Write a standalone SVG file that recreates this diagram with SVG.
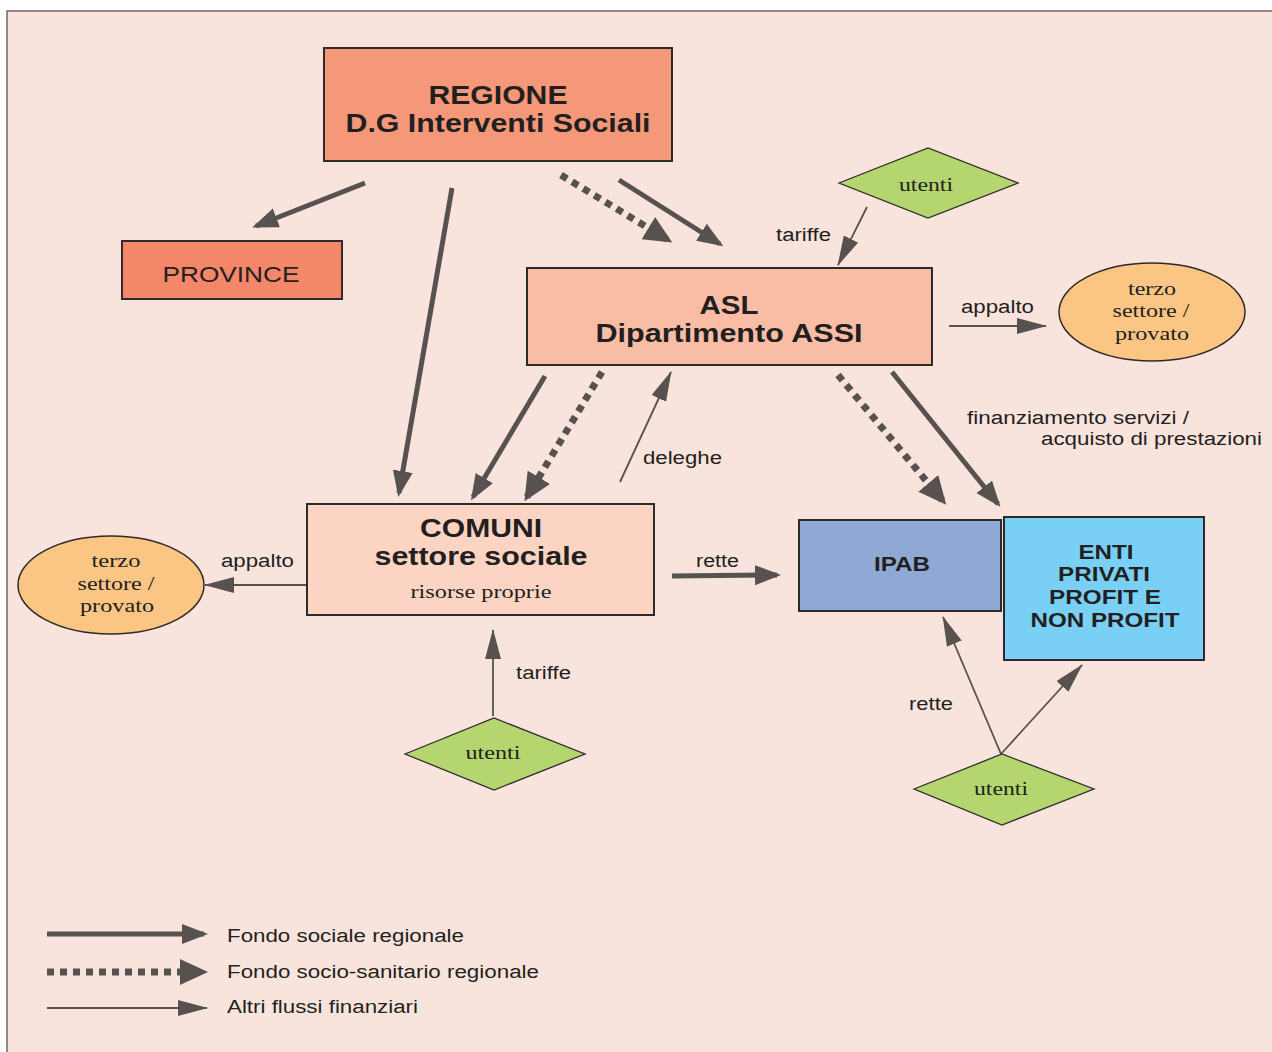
<svg xmlns="http://www.w3.org/2000/svg" width="1272" height="1052" viewBox="0 0 1272 1052">
  <style>
    .box { stroke: #2e2a2a; stroke-width: 2; }
    .dia { fill: #b5d56f; stroke: #2e2a2a; stroke-width: 1.3; }
    .ell { fill: #fbc584; stroke: #2e2a2a; stroke-width: 1.5; }
    .ttl { font-family: "Liberation Sans", Arial, sans-serif; font-weight: bold; fill: #231f20; text-anchor: middle; }
    .reg { font-family: "Liberation Sans", Arial, sans-serif; fill: #231f20; }
    .ser { font-family: "Liberation Serif", "Times New Roman", serif; fill: #231f20; text-anchor: middle; }
    .thick { stroke: #575150; stroke-width: 5; fill: none; marker-end: url(#hThick); }
    .dash { stroke: #575150; stroke-width: 7; fill: none; stroke-dasharray: 7 6; marker-end: url(#hDash); }
    .thin { stroke: #575150; stroke-width: 1.8; fill: none; marker-end: url(#hThin); }
  </style>
  <defs>
    <!-- heads sit slightly past the line end so the stroke never pokes out of the tip -->
    <marker id="hThick" markerUnits="userSpaceOnUse" markerWidth="30" markerHeight="24" refX="22" refY="10" orient="auto">
      <path d="M0,0 L26,10 L0,20 Z" fill="#575150"/>
    </marker>
    <marker id="hDash" markerUnits="userSpaceOnUse" markerWidth="32" markerHeight="30" refX="23" refY="13" orient="auto">
      <path d="M0,0 L28,13 L0,26 Z" fill="#575150"/>
    </marker>
    <marker id="hThin" markerUnits="userSpaceOnUse" markerWidth="34" markerHeight="20" refX="29" refY="8" orient="auto">
      <path d="M0,0 L30,8 L0,16 Z" fill="#575150"/>
    </marker>
  </defs>

  <!-- sheet -->
  <rect x="7" y="11" width="1270" height="1045" fill="#f8e4dc" stroke="#6e6464" stroke-width="1.5"/>

  <!-- flows -->
  <g id="connectors">
    <line class="thick" x1="365" y1="183" x2="256" y2="226"/>
    <line class="thick" x1="452" y1="188" x2="399" y2="493"/>
    <line class="dash" x1="561" y1="175" x2="668" y2="240"/>
    <line class="thick" x1="619" y1="180" x2="720" y2="244"/>
    <line class="thin" x1="867" y1="207" x2="838" y2="265"/>
    <line class="thin" x1="949" y1="326" x2="1046" y2="326"/>
    <line class="thick" x1="545" y1="376" x2="473" y2="497"/>
    <line class="dash" x1="602" y1="372" x2="527" y2="497"/>
    <line class="thin" x1="620" y1="482" x2="671" y2="372"/>
    <line class="dash" x1="838" y1="375" x2="943" y2="501"/>
    <line class="thick" x1="892" y1="372" x2="998" y2="504"/>
    <line class="thin" x1="307" y1="585" x2="205" y2="585"/>
    <line class="thick" x1="672" y1="576" x2="777" y2="575" stroke-width="4"/>
    <line class="thin" x1="493" y1="716" x2="493" y2="630"/>
    <line class="thin" x1="1001" y1="754" x2="943" y2="617"/>
    <line class="thin" x1="1001" y1="754" x2="1082" y2="665"/>

    <g class="reg" font-size="18">
      <text x="776" y="241" textLength="55" lengthAdjust="spacingAndGlyphs">tariffe</text>
      <text x="961" y="313" textLength="73" lengthAdjust="spacingAndGlyphs">appalto</text>
      <text x="643" y="464" textLength="79" lengthAdjust="spacingAndGlyphs">deleghe</text>
      <text x="967" y="424" textLength="222" lengthAdjust="spacingAndGlyphs">finanziamento servizi /</text>
      <text x="1041" y="445" textLength="221" lengthAdjust="spacingAndGlyphs">acquisto di prestazioni</text>
      <text x="221" y="567" textLength="73" lengthAdjust="spacingAndGlyphs">appalto</text>
      <text x="696" y="567" textLength="43" lengthAdjust="spacingAndGlyphs">rette</text>
      <text x="516" y="679" textLength="55" lengthAdjust="spacingAndGlyphs">tariffe</text>
      <text x="909" y="710" textLength="44" lengthAdjust="spacingAndGlyphs">rette</text>
    </g>
  </g>

  <!-- bodies -->
  <g id="regione">
    <rect class="box" x="324" y="48" width="348" height="113" fill="#f5987a"/>
    <text class="ttl" x="498" y="104" font-size="26" textLength="139" lengthAdjust="spacingAndGlyphs">REGIONE</text>
    <text class="ttl" x="498" y="132" font-size="26" textLength="305" lengthAdjust="spacingAndGlyphs">D.G Interventi Sociali</text>
  </g>

  <g id="province">
    <rect class="box" x="122" y="241" width="220" height="58" fill="#f48769" stroke-width="1.5"/>
    <text class="reg" x="231" y="282" font-size="22" text-anchor="middle" textLength="137" lengthAdjust="spacingAndGlyphs">PROVINCE</text>
  </g>

  <g id="asl">
    <rect class="box" x="527" y="268" width="405" height="97" fill="#f9bda6"/>
    <text class="ttl" x="729" y="314" font-size="26" textLength="59" lengthAdjust="spacingAndGlyphs">ASL</text>
    <text class="ttl" x="729" y="342" font-size="26" textLength="267" lengthAdjust="spacingAndGlyphs">Dipartimento ASSI</text>
  </g>

  <g id="comuni">
    <rect class="box" x="307" y="504" width="347" height="111" fill="#fcd4c4"/>
    <text class="ttl" x="481" y="537" font-size="26" textLength="122" lengthAdjust="spacingAndGlyphs">COMUNI</text>
    <text class="ttl" x="481" y="565" font-size="26" textLength="213" lengthAdjust="spacingAndGlyphs">settore sociale</text>
    <text class="ser" x="481" y="598" font-size="19" textLength="141" lengthAdjust="spacingAndGlyphs">risorse proprie</text>
  </g>

  <g id="ipab">
    <rect class="box" x="799" y="520" width="202" height="91" fill="#8fa8d6" stroke-width="1.5"/>
    <text class="ttl" x="902" y="571" font-size="20" textLength="56" lengthAdjust="spacingAndGlyphs">IPAB</text>
  </g>

  <g id="enti">
    <rect class="box" x="1004" y="517" width="200" height="143" fill="#79d0f4"/>
    <text class="ttl" x="1106" y="559" font-size="20" textLength="55" lengthAdjust="spacingAndGlyphs">ENTI</text>
    <text class="ttl" x="1104" y="581" font-size="20" textLength="92" lengthAdjust="spacingAndGlyphs">PRIVATI</text>
    <text class="ttl" x="1105" y="604" font-size="20" textLength="112" lengthAdjust="spacingAndGlyphs">PROFIT E</text>
    <text class="ttl" x="1105" y="627" font-size="20" textLength="149" lengthAdjust="spacingAndGlyphs">NON PROFIT</text>
  </g>

  <g id="utenti-asl">
    <polygon class="dia" points="839,183 928,148 1018,183 928,218"/>
    <text class="ser" x="926" y="191" font-size="19" textLength="54" lengthAdjust="spacingAndGlyphs">utenti</text>
  </g>

  <g id="utenti-comuni">
    <polygon class="dia" points="405,754 494,718 585,754 494,790"/>
    <text class="ser" x="493" y="759" font-size="19" textLength="55" lengthAdjust="spacingAndGlyphs">utenti</text>
  </g>

  <g id="utenti-enti">
    <polygon class="dia" points="914,789 1002,754 1094,789 1002,825"/>
    <text class="ser" x="1001" y="795" font-size="19" textLength="54" lengthAdjust="spacingAndGlyphs">utenti</text>
  </g>

  <g id="terzo-asl">
    <ellipse class="ell" cx="1152" cy="312" rx="93" ry="49"/>
    <text class="ser" x="1152" y="295" font-size="19" textLength="48" lengthAdjust="spacingAndGlyphs">terzo</text>
    <text class="ser" x="1151" y="317" font-size="19" textLength="77" lengthAdjust="spacingAndGlyphs">settore /</text>
    <text class="ser" x="1152" y="340" font-size="19" textLength="74" lengthAdjust="spacingAndGlyphs">provato</text>
  </g>

  <g id="terzo-comuni">
    <ellipse class="ell" cx="111" cy="585" rx="93" ry="49"/>
    <text class="ser" x="116" y="567" font-size="19" textLength="49" lengthAdjust="spacingAndGlyphs">terzo</text>
    <text class="ser" x="116" y="590" font-size="19" textLength="77" lengthAdjust="spacingAndGlyphs">settore /</text>
    <text class="ser" x="117" y="612" font-size="19" textLength="74" lengthAdjust="spacingAndGlyphs">provato</text>
  </g>

  <!-- key -->
  <g id="legend">
    <line class="thick" x1="47" y1="934" x2="204" y2="934"/>
    <line class="dash" x1="47" y1="972" x2="203" y2="972"/>
    <line class="thin" x1="47" y1="1008" x2="207" y2="1008"/>
    <g class="reg" font-size="18">
      <text x="227" y="942" textLength="237" lengthAdjust="spacingAndGlyphs">Fondo sociale regionale</text>
      <text x="227" y="978" textLength="312" lengthAdjust="spacingAndGlyphs">Fondo socio-sanitario regionale</text>
      <text x="227" y="1013" textLength="191" lengthAdjust="spacingAndGlyphs">Altri flussi finanziari</text>
    </g>
  </g>
</svg>
